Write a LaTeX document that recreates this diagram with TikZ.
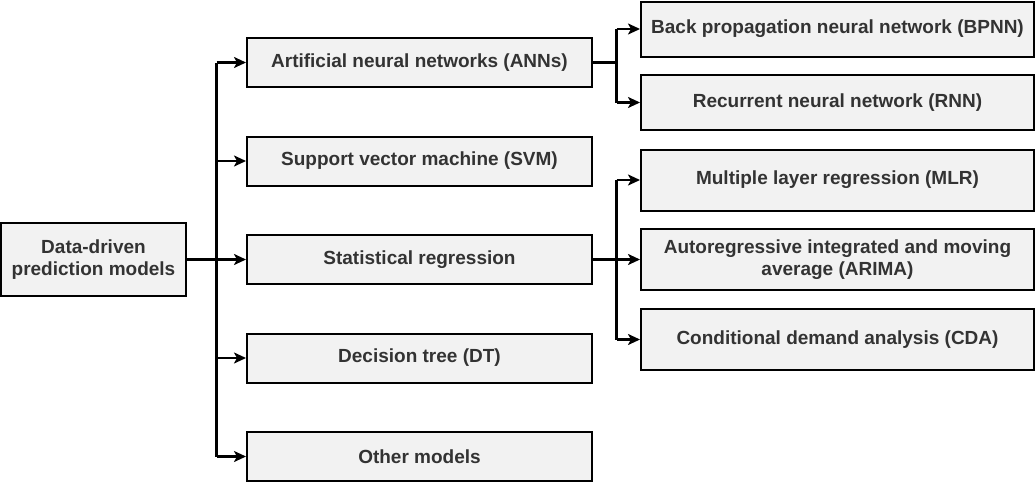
\documentclass[tikz,border=0pt]{standalone}
\usepackage{fontspec}
\setmainfont{Liberation Sans}
\usetikzlibrary{arrows.meta}
\definecolor{boxfill}{HTML}{F2F2F2}
\definecolor{txt}{HTML}{333333}
\begin{document}
\begin{tikzpicture}[x=1pt,y=-1pt,
  box/.style={draw=black,fill=boxfill,line width=2pt,inner sep=0pt,
    font=\fontsize{19}{22}\selectfont\bfseries,text=txt,align=center},
  link/.style={line width=2.2pt,-{Stealth[length=12pt,width=11pt,inset=3pt]}},
  plain/.style={line width=2.2pt}]
\useasboundingbox (0,0) rectangle (1036,482);
% root
\node[box,minimum width=185pt,minimum height=73pt] (root) at (93.5,259.5) {Data-driven\\prediction models};
% second level
\node[box,minimum width=345pt,minimum height=49pt] (ann) at (419.5,62.5) {Artificial neural networks (ANNs)};
\node[box,minimum width=345pt,minimum height=49pt] (svm) at (419.5,161) {Support vector machine (SVM)};
\node[box,minimum width=345pt,minimum height=49pt] (stat) at (419.5,259.5) {Statistical regression};
\node[box,minimum width=345pt,minimum height=49pt] (dt) at (419.5,358) {Decision tree (DT)};
\node[box,minimum width=345pt,minimum height=49pt] (oth) at (419.5,456.5) {Other models};
% third level
\node[box,minimum width=393pt,minimum height=55pt] (bpnn) at (837.5,29) {Back propagation neural network (BPNN)};
\node[box,minimum width=393pt,minimum height=55pt] (rnn) at (837.5,102.5) {Recurrent neural network (RNN)};
\node[box,minimum width=393pt,minimum height=61pt] (mlr) at (837.5,180) {Multiple layer regression (MLR)};
\node[box,minimum width=393pt,minimum height=61pt] (arima) at (837.5,259.5) {Autoregressive integrated and moving\\average (ARIMA)};
\node[box,minimum width=393pt,minimum height=61pt] (cda) at (837.5,339.5) {Conditional demand analysis (CDA)};
% junction points
\coordinate (j0) at (216.5,0);
\coordinate (j1) at (616.5,0);
% trunk from root
\draw[plain] (root.east) -- (root.east -| j0);
\draw[link] (root.east -| j0) -- (stat.west);
\draw[link] (j0 |- ann.west) -- (ann.west);
\draw[link] (j0 |- svm.west) -- (svm.west);
\draw[link] (j0 |- dt.west) -- (dt.west);
\draw[link] (j0 |- oth.west) -- (oth.west);
\draw[plain] (j0 |- ann.west) -- (j0 |- oth.west);
% ANN branches
\draw[plain] (ann.east) -- (ann.east -| j1);
\draw[plain] (j1 |- bpnn.west) -- (j1 |- rnn.west);
\draw[link] (j1 |- bpnn.west) -- (bpnn.west);
\draw[link] (j1 |- rnn.west) -- (rnn.west);
% regression branches
\draw[plain] (stat.east) -- (stat.east -| j1);
\draw[plain] (j1 |- mlr.west) -- (j1 |- cda.west);
\draw[link] (j1 |- mlr.west) -- (mlr.west);
\draw[link] (stat.east -| j1) -- (arima.west);
\draw[link] (j1 |- cda.west) -- (cda.west);
\end{tikzpicture}
\end{document}
